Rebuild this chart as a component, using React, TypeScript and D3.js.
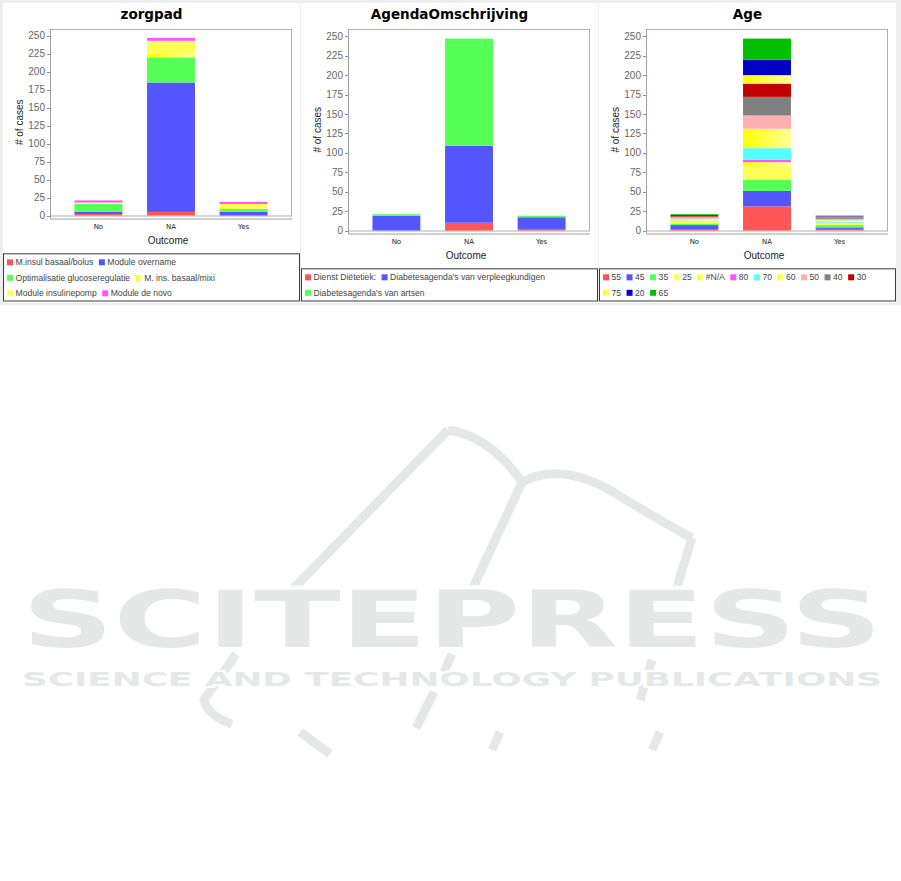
import React from 'react';
import * as d3 from 'd3';

const outcomes = ['No', 'NA', 'Yes'];
const yTicks = [0, 25, 50, 75, 100, 125, 150, 175, 200, 225, 250];
const xAxisLabel = 'Outcome';
const yAxisLabel = '# of cases';

// zorgpad
const zorgpadSeries = ['M.insul basaal/bolus', 'Module overname', 'Optimalisatie glucoseregulatie', 'M. ins. basaal/mixi', 'Module insulinepomp', 'Module de novo'];
const zorgpadNo = [2, 3, 11, 1, 1, 3];
const zorgpadNA = [5, 180, 35, 5, 18, 4];
const zorgpadYes = [0, 5, 4, 2, 5, 3];

// AgendaOmschrijving
const agendaSeries = ['Dienst Diëtetiek:', "Diabetesagenda's van verpleegkundigen", "Diabetesagenda's van artsen"];
const agendaNo = [0, 19, 2];
const agendaNA = [10, 99, 138];
const agendaYes = [2, 15, 2];

// Age
const ageSeries = ['55', '45', '35', '25', '#N/A', '80', '70', '60', '50', '40', '30', '75', '20', '65'];
const ageNo = [1, 6, 2, 2, 1, 0, 1, 2, 2, 1, 1, 0, 1, 1];
const ageNA = [31, 20, 14, 17, 6, 3, 15, 25, 17, 24, 17, 11, 20, 27];
const ageYes = [2, 2, 3, 2, 1, 0, 1, 2, 2, 1, 1, 1, 1, 0];

const YG = 'url(#ygrad)';
const zorgpadColors = ['#ff5555', '#5555ff', '#55ff55', YG, '#ffff55', '#ff55ff'];
const agendaColors = ['#ff5555', '#5555ff', '#55ff55'];
const ageColors = ['#ff5555', '#5555ff', '#55ff55', '#ffff55', YG, '#ff55ff', '#55ffff', YG, '#ffafaf', '#808080', '#c00000', YG, '#0000c0', '#00c000'];

let measureCtx: CanvasRenderingContext2D | null = null;
function measure(text: string, font: string): number {
  if (!measureCtx) measureCtx = document.createElement('canvas').getContext('2d');
  if (!measureCtx) return text.length * 5;
  measureCtx.font = font;
  return measureCtx.measureText(text).width;
}

const LEG_FONT_SIZE = 8.6;
const LEG_FONT = `${LEG_FONT_SIZE}px 'Liberation Sans'`;

function Legend({ x0, x1, y0, y1, series, colors }: any) {
  const items: any[] = [];
  let cx = x0 + 4;
  let row = 0;
  series.forEach((s: string, i: number) => {
    const w = measure(s, LEG_FONT);
    if (cx > x0 + 4 && cx + 8.5 + w + 5.5 > x1 - 3) {
      row++;
      cx = x0 + 4;
    }
    items.push({ s, i, x: cx, row });
    cx += 8.5 + w + 5.5;
  });
  return (
    <g>
      <rect x={x0 + 0.5} y={y0 + 0.5} width={x1 - x0 - 1} height={y1 - y0 - 1} fill="#ffffff" stroke="#3a3a3a" strokeWidth={1} />
      {items.map((it) => {
        const cy = y0 + 9 + it.row * 15.5;
        return (
          <g key={it.i}>
            <rect x={it.x} y={cy - 3} width={6} height={6} fill={colors[it.i]} />
            <text x={it.x + 8.5} y={cy + 3} fontFamily="'Liberation Sans'" fontSize={LEG_FONT_SIZE} fill="#444">{it.s}</text>
          </g>
        );
      })}
    </g>
  );
}

function StackedChart({ px, title, series, catValues, colors, plotBottom, legendTop }: any) {
  const left = px + 47;
  const right = px + 289;
  const top = 29;
  const w = right - left;
  const x = d3.scaleBand<string>().domain(outcomes).range([left + 0.05 * w, right - 0.05 * w]).paddingInner(0).paddingOuter(0);
  const barW = x.bandwidth() * 0.66;
  const rows = outcomes.map((o, ci) => {
    const r: any = { cat: o };
    series.forEach((_: string, si: number) => { r[si] = catValues[ci][si]; });
    return r;
  });
  const keys = series.map((_: string, i: number) => i);
  const stacked = d3.stack<any, number>().keys(keys)(rows);
  const maxTotal = d3.max(catValues, (v: number[]) => d3.sum(v)) as number;
  const y = d3.scaleLinear().domain([0, maxTotal * 1.05]).range([plotBottom, top]);
  const cxPanel = px + 148.5;
  return (
    <g>
      <rect x={px} y={3} width={297} height={300} fill="#ffffff" />
      <text x={cxPanel} y={18.5} textAnchor="middle" fontFamily="'DejaVu Sans'" fontWeight="bold" fontSize={13.5} fill="#000">{title}</text>
      <rect x={left + 0.5} y={top + 0.5} width={w - 1} height={plotBottom - top} fill="#ffffff" stroke="#b0b0b0" strokeWidth={1} />
      {stacked.map((layer, si) => (
        <g key={si}>
          {layer.map((d: any, ci: number) => {
            const h = y(d[0]) - y(d[1]);
            if (h <= 0) return null;
            return <rect key={ci} x={(x(outcomes[ci]) as number) + (x.bandwidth() - barW) / 2} y={y(d[1])} width={barW} height={h} fill={colors[si]} />;
          })}
        </g>
      ))}
      <line x1={left + 0.5} x2={left + 0.5} y1={top} y2={plotBottom + 3} stroke="#a0a0a0" />
      <line x1={left} x2={right} y1={plotBottom + 3.5} y2={plotBottom + 3.5} stroke="#a0a0a0" />
      {yTicks.map((t) => (
        <g key={t}>
          <line x1={left - 3} x2={left} y1={Math.round(y(t)) + 0.5} y2={Math.round(y(t)) + 0.5} stroke="#909090" />
          <text x={left - 5} y={y(t) + 3.6} textAnchor="end" fontFamily="'Liberation Sans'" fontSize={10} fill="#666">{t}</text>
        </g>
      ))}
      {outcomes.map((o) => (
        <text key={o} x={(x(o) as number) + x.bandwidth() / 2} y={plotBottom + 13} textAnchor="middle" fontFamily="'DejaVu Sans'" fontSize={7} fill="#222">{o}</text>
      ))}
      <text x={(left + right) / 2 - 3} y={plotBottom + 28.5} textAnchor="middle" fontFamily="'Liberation Sans'" fontSize={10} fill="#222">{xAxisLabel}</text>
      <text transform={`translate(${px + 16.5},${(top + plotBottom) / 2}) rotate(-90)`} textAnchor="middle" dominantBaseline="central" fontFamily="'Liberation Sans'" fontSize={10} fill="#222">{yAxisLabel}</text>
      <Legend x0={px} x1={px + 297} y0={legendTop} y1={301.5} series={series} colors={colors} />
    </g>
  );
}

const WM = '#e6e8e8';

function Watermark() {
  const bands = [
    'M292,590 L448,430',
    'M448,430 Q490,436 522,482',
    'M522,482 Q560,462 610,490 Q650,515 692,538',
    'M692,538 L676,590',
    'M522,482 L472,590',
    'M236,654 L204,700 Q208,716 232,724',
    'M452,654 L444,672',
    'M434,692 L416,728',
    'M652,660 L640,700',
    'M300,732 L330,754',
    'M500,732 L492,750',
    'M660,732 L652,750',
  ];
  return (
    <g>
      {bands.map((d, i) => (
        <path key={i} d={d} fill="none" stroke={WM} strokeWidth={9} />
      ))}
      <text x={22} y={647} textLength={860} lengthAdjust="spacingAndGlyphs" fontFamily="'DejaVu Sans'" fontWeight="bold" fontSize={78} fill={WM} stroke="#ffffff" strokeWidth={8} paintOrder="stroke">SCITEPRESS</text>
      <text x={22} y={686} textLength={860} lengthAdjust="spacingAndGlyphs" fontFamily="'DejaVu Sans'" fontWeight="bold" fontSize={20} fill={WM} stroke="#ffffff" strokeWidth={4} paintOrder="stroke">SCIENCE AND TECHNOLOGY PUBLICATIONS</text>
    </g>
  );
}

export default function App() {
  return (
    <svg width={901} height={881} style={{ position: 'absolute', left: 0, top: 0, background: '#ffffff' }}>
      <defs>
        <linearGradient id="ygrad" x1="0" x2="1" y1="0" y2="0">
          <stop offset="0" stopColor="#ffff00" />
          <stop offset="1" stopColor="#ffff99" />
        </linearGradient>
      </defs>
      <rect x={0} y={0} width={901} height={881} fill="#ffffff" />
      <rect x={0} y={0} width={901} height={305} fill="#eeeeee" />
      <Watermark />
      <StackedChart px={3} title="zorgpad" series={zorgpadSeries} catValues={[zorgpadNo, zorgpadNA, zorgpadYes]} colors={zorgpadColors} plotBottom={215.5} legendTop={253.3} />
      <StackedChart px={301} title="AgendaOmschrijving" series={agendaSeries} catValues={[agendaNo, agendaNA, agendaYes]} colors={agendaColors} plotBottom={230.5} legendTop={268.3} />
      <StackedChart px={599} title="Age" series={ageSeries} catValues={[ageNo, ageNA, ageYes]} colors={ageColors} plotBottom={230.5} legendTop={268.3} />
    </svg>
  );
}
